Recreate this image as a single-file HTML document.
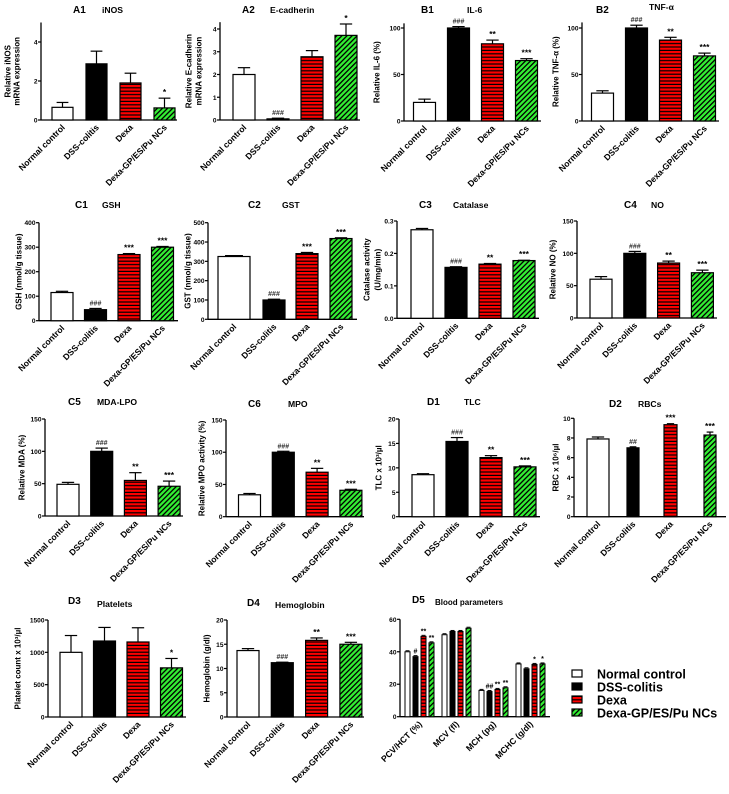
<!DOCTYPE html>
<html><head><meta charset="utf-8">
<style>
html,body{margin:0;padding:0;background:#fff;}
svg{display:block;font-family:"Liberation Sans",Arial,sans-serif;font-weight:bold;}
</style></head>
<body>
<svg id="fig" width="729" height="794" viewBox="0 0 729 794" xmlns="http://www.w3.org/2000/svg">
<defs>
<pattern id="pRed" width="4" height="3.4" patternUnits="userSpaceOnUse"><rect width="4" height="3.4" fill="#f00"/><rect y="2.2" width="4" height="1.2" fill="#000"/></pattern>
<pattern id="pGreen" width="3.6" height="4" patternUnits="userSpaceOnUse" patternTransform="rotate(45)"><rect width="3.6" height="4" fill="#33ee33"/><rect width="1.3" height="4" fill="#000"/></pattern>
</defs>
</svg>
<script>
const categories = ["Normal control","DSS-colitis","Dexa","Dexa-GP/ES/Pu NCs"];
const a1Values=[0.65,2.88,1.9,0.62]; const a1Errors=[0.25,0.65,0.5,0.5]; const a1Marks=["","","","*"]; const a1Ticks=[0,2,4];
const a2Values=[2.0,0.05,2.78,3.72]; const a2Errors=[0.3,0.03,0.27,0.5]; const a2Marks=["","###","","*"]; const a2Ticks=[0,1,2,3,4];
const b1Values=[20,100,83,65]; const b1Errors=[3.5,1.5,4,2]; const b1Marks=["","###","**","***"]; const b1Ticks=[0,50,100];
const b2Values=[30,100,87,70]; const b2Errors=[2.5,3,3,3]; const b2Marks=["","###","**","***"]; const b2Ticks=[0,50,100];
const c1Values=[115,45,270,300]; const c1Errors=[5,5,4,3]; const c1Marks=["","###","***","***"]; const c1Ticks=[0,100,200,300,400];
const c2Values=[325,100,340,418]; const c2Errors=[5,4,6,4]; const c2Marks=["","###","***","***"]; const c2Ticks=[0,100,200,300,400,500];
const c3Values=[0.273,0.157,0.167,0.178]; const c3Errors=[0.004,0.002,0.002,0.001]; const c3Marks=["","###","**","***"]; const c3Ticks=[0,0.1,0.2,0.3];
const c4Values=[60,100,85,70]; const c4Errors=[4,3,3,4]; const c4Marks=["","###","**","***"]; const c4Ticks=[0,50,100,150];
const c5Values=[49,100,55,46]; const c5Errors=[3,5,12,8]; const c5Marks=["","###","**","***"]; const c5Ticks=[0,50,100,150];
const c6Values=[34,100,69,41]; const c6Errors=[2,1.5,6,1.5]; const c6Marks=["","###","**","***"]; const c6Ticks=[0,50,100,150];
const d1Values=[8.6,15.4,12.1,10.2]; const d1Errors=[0.2,0.8,0.4,0.2]; const d1Marks=["","###","**","***"]; const d1Ticks=[0,5,10,15,20];
const d2Values=[7.9,7.0,9.35,8.3]; const d2Errors=[0.2,0.1,0.1,0.3]; const d2Marks=["","##","***","***"]; const d2Ticks=[0,2,4,6,8,10];
const d3Values=[1000,1175,1160,760]; const d3Errors=[260,210,220,145]; const d3Marks=["","","","*"]; const d3Ticks=[0,500,1000,1500];
const d4Values=[13.7,11.2,15.8,15.0]; const d4Errors=[0.4,0.1,0.5,0.4]; const d4Marks=["","###","**","***"]; const d4Ticks=[0,5,10,15,20];
const d5Categories=["PCV/HCT (%)","MCV (fl)","MCH (pg)","MCHC (g/dl)"];
const d5Normal=[40,50.5,16.2,32.5]; const d5DSS=[37,52.5,15.5,29.5]; const d5Dexa=[49.5,52.5,16.8,32.2]; const d5NCs=[45.5,54.5,17.8,32.5];
const d5Marks=[["","#","**","**"],["","","",""],["","##","**","**"],["","","*","*"]];
const d5Ticks=[0,20,40,60];

const svg=document.getElementById('fig');
const NS="http://www.w3.org/2000/svg";
const fills=["#fff","#000","url(#pRed)","url(#pGreen)"];
function mk(tag,attrs,parent){const e=document.createElementNS(NS,tag);for(const k in attrs)e.setAttribute(k,attrs[k]);(parent||svg).appendChild(e);return e;}
function txt(s,attrs,parent){const e=mk('text',attrs,parent);e.textContent=s;return e;}

function panel(cfg){
  const g=mk('g',{});
  
  
  const yScale=v=>cfg.y0-v*(cfg.y0-cfg.refPx)/cfg.refV;
  const xScale=i=>cfg.c0+i*cfg.pitch;
  const topPx=yScale(cfg.topV);
  const ya=mk('line',{x1:cfg.ax,x2:cfg.ax,y1:topPx,y2:cfg.y0,stroke:'#000','stroke-width':1.3},g);
  
  
  const xa=mk('line',{x1:cfg.ax,x2:cfg.end,y1:cfg.y0,y2:cfg.y0,stroke:'#000','stroke-width':1.3},g);
  
  
  cfg.ticks.forEach(t=>{
    const y=yScale(t);
    mk('line',{x1:cfg.ax-3,x2:cfg.ax,y1:y,y2:y,stroke:'#000','stroke-width':1.2},g);
    const tl=txt(cfg.fmt?cfg.fmt(t):String(t),{x:cfg.ax-3.5,y:y+2.5,'font-size':6.6,'text-anchor':'end'},g);
    
    
  });
  const mid=(cfg.y0+topPx)/2;
  cfg.ylab.forEach((s,k)=>{
    const yl=txt(s,{x:0,y:0,'font-size':8,'text-anchor':'middle','dominant-baseline':'central',transform:`translate(${cfg.ylx[k]},${mid}) rotate(-90)`},g);
    
    
  });
  const t1=txt(cfg.id,{x:cfg.tx,y:cfg.ty,'font-size':10},g);
  
  
  const t2=txt(cfg.title,{x:cfg.sx,y:cfg.sy||cfg.ty,'font-size':8.6},g);
  
  
  cfg.values.forEach((v,i)=>{
    const w=cfg.widths?cfg.widths[i]:cfg.w;
    const cx=cfg.centers?cfg.centers[i]:xScale(i);
    const y=yScale(v);
    const b=mk('rect',{x:cx-w/2,y:y,width:w,height:cfg.y0-y,fill:fills[i],stroke:'#000','stroke-width':1.2},g);
    
    
    const ye=yScale(v+cfg.errors[i]);
    mk('line',{x1:cx,x2:cx,y1:y,y2:ye,stroke:'#000','stroke-width':1.2},g);
    mk('line',{x1:cx-w*0.28,x2:cx+w*0.28,y1:ye,y2:ye,stroke:'#000','stroke-width':1.2},g);
    if(cfg.marks[i]){
      const m=cfg.marks[i];
      const a=txt(m,{x:cx,y:ye-3,'font-size':m[0]==='#'?7:8.5,'text-anchor':'middle',fill:m[0]==='#'?'#333':'#000'},g);
      
      
    }
    const cl=txt(categories[i],{x:0,y:0,'font-size':8.6,'text-anchor':'end',transform:`translate(${cx+3},${cfg.y0+8}) rotate(-45)`},g);
    
    
  });
}

panel({name:'panel-a1-inos',id:'A1',title:'iNOS',tx:73,sx:102,ty:13,ax:41,y0:120,refV:4,refPx:42,topV:5,ticks:a1Ticks,c0:62.5,pitch:34,w:21,end:177,ylab:['Relative iNOS','mRNA expression'],ylx:[8,17],values:a1Values,errors:a1Errors,marks:a1Marks});
panel({name:'panel-a2-e-cadherin',id:'A2',title:'E-cadherin',tx:242,sx:270,ty:13,ax:220,y0:120,refV:4,refPx:29,topV:4.3,ticks:a2Ticks,c0:244,pitch:34,w:22,end:360,ylab:['Relative E-cadherin','mRNA expression'],ylx:[189,199],values:a2Values,errors:a2Errors,marks:a2Marks});
panel({name:'panel-b1-il6',id:'B1',title:'IL-6',tx:421,sx:467,ty:13,ax:404,y0:121,refV:100,refPx:28,topV:105,ticks:b1Ticks,c0:424.5,pitch:34,w:22,end:541,ylab:['Relative IL-6 (%)'],ylx:[377],values:b1Values,errors:b1Errors,marks:b1Marks});
panel({name:'panel-b2-tnf',id:'B2',title:'TNF-α',tx:596,sx:649,ty:13,sy:10,ax:582,y0:121,refV:100,refPx:28,topV:106,ticks:b2Ticks,c0:602.5,pitch:34,w:22,end:719,ylab:['Relative TNF-α (%)'],ylx:[556],values:b2Values,errors:b2Errors,marks:b2Marks});
panel({name:'panel-c1-gsh',id:'C1',title:'GSH',tx:75,sx:102,ty:208,ax:39,y0:320.7,refV:400,refPx:222.7,topV:400,ticks:c1Ticks,c0:62,pitch:33.5,w:22,end:178,ylab:['GSH (nmol/g tissue)'],ylx:[19],values:c1Values,errors:c1Errors,marks:c1Marks});
panel({name:'panel-c2-gst',id:'C2',title:'GST',tx:248,sx:282,ty:208,ax:208,y0:319.3,refV:500,refPx:222.7,topV:500,ticks:c2Ticks,centers:[234,274,307,341],widths:[32,22,22,22],c0:0,pitch:0,w:22,end:357,ylab:['GST (nmol/g tissue)'],ylx:[188],values:c2Values,errors:c2Errors,marks:c2Marks});
panel({name:'panel-c3-catalase',id:'C3',title:'Catalase',tx:419,sx:453,ty:208,ax:397,y0:318.3,refV:0.3,refPx:221,topV:0.3,ticks:c3Ticks,fmt:t=>t.toFixed(1),c0:422,pitch:34,w:22,end:539,ylab:['Catalase activity','(U/mg/min)'],ylx:[367,378],values:c3Values,errors:c3Errors,marks:c3Marks});
panel({name:'panel-c4-no',id:'C4',title:'NO',tx:624,sx:651,ty:208,ax:577,y0:318,refV:150,refPx:221,topV:150,ticks:c4Ticks,c0:601,pitch:33.8,w:22,end:717,ylab:['Relative NO (%)'],ylx:[553],values:c4Values,errors:c4Errors,marks:c4Marks});
panel({name:'panel-c5-mda',id:'C5',title:'MDA-LPO',tx:68,sx:97,ty:405,ax:45,y0:516,refV:150,refPx:419,topV:150,ticks:c5Ticks,c0:68,pitch:33.7,w:22,end:183,ylab:['Relative MDA (%)'],ylx:[22],values:c5Values,errors:c5Errors,marks:c5Marks});
panel({name:'panel-c6-mpo',id:'C6',title:'MPO',tx:248,sx:288,ty:407,ax:226,y0:516.7,refV:150,refPx:420,topV:150,ticks:c6Ticks,c0:249.5,pitch:33.8,w:22,end:364,ylab:['Relative MPO activity (%)'],ylx:[202],values:c6Values,errors:c6Errors,marks:c6Marks});
panel({name:'panel-d1-tlc',id:'D1',title:'TLC',tx:427,sx:464,ty:405,ax:399,y0:516.7,refV:20,refPx:419,topV:20,ticks:d1Ticks,c0:423,pitch:34,w:22,end:540,ylab:['TLC x 10³/µl'],ylx:[379],values:d1Values,errors:d1Errors,marks:d1Marks});
panel({name:'panel-d2-rbc',id:'D2',title:'RBCs',tx:609,sx:638,ty:407,ax:574,y0:516.7,refV:10,refPx:418.3,topV:10,ticks:d2Ticks,centers:[598,633,670.5,710],widths:[22,12,13,12],c0:0,pitch:0,w:12,end:726,ylab:['RBC x 10⁶/µl'],ylx:[556],values:d2Values,errors:d2Errors,marks:d2Marks});
panel({name:'panel-d3-platelets',id:'D3',title:'Platelets',tx:68,sx:97,ty:604,sy:607,ax:48,y0:717,refV:1500,refPx:620,topV:1500,ticks:d3Ticks,c0:71,pitch:33.5,w:22,end:186,ylab:['Platelet count x 10³/µl'],ylx:[18],values:d3Values,errors:d3Errors,marks:d3Marks});
panel({name:'panel-d4-hemoglobin',id:'D4',title:'Hemoglobin',tx:247,sx:275,ty:606,sy:608,ax:227,y0:717,refV:20,refPx:620,topV:20,ticks:d4Ticks,c0:248,pitch:34.3,w:22,end:364,ylab:['Hemoglobin (g/dl)'],ylx:[207],values:d4Values,errors:d4Errors,marks:d4Marks});

(function(){
  const g=mk('g',{});
  
  
  const ax=400,y0=716.7,refPx=619.3,end=550;
  const yScale=v=>y0-v*(y0-refPx)/60;
  const groupX=i=>407.5+i*37;
  const series=[d5Normal,d5DSS,d5Dexa,d5NCs];
  mk('line',{x1:ax,x2:ax,y1:yScale(60),y2:y0,stroke:'#000','stroke-width':1.3},g);
  mk('line',{x1:ax,x2:end,y1:y0,y2:y0,stroke:'#000','stroke-width':1.3},g);
  d5Ticks.forEach(t=>{
    const y=yScale(t);
    mk('line',{x1:ax-3,x2:ax,y1:y,y2:y,stroke:'#000','stroke-width':1.2},g);
    const tl=txt(String(t),{x:ax-3.5,y:y+2.5,'font-size':6.6,'text-anchor':'end'},g);
    
    
  });
  const t1=txt('D5',{x:412,y:603,'font-size':10},g);
  
  
  const t2=txt('Blood parameters',{x:435,y:605,'font-size':8},g);
  
  
  d5Categories.forEach((c,i)=>{
    series.forEach((s,k)=>{
      const x=groupX(i)+k*8;
      const y=yScale(s[i]);
      const b=mk('rect',{x:x-2.5,y:y,width:5,height:y0-y,fill:fills[k],stroke:'#000','stroke-width':1},g);
      
      
      mk('line',{x1:x-2,x2:x+2,y1:y-1,y2:y-1,stroke:'#000','stroke-width':1},g);
      const m=d5Marks[i][k];
      if(m){
        const a=txt(m,{x:x,y:y-3,'font-size':7,'text-anchor':'middle'},g);
        
        
      }
    });
    const cl=txt(c,{x:0,y:0,'font-size':8.6,'text-anchor':'end',transform:`translate(${groupX(i)+15},${y0+8}) rotate(-45)`},g);
    
    
  });
})();

(function(){
  const g=mk('g',{});
  
  
  const ys=[674,687,700,713];
  categories.forEach((c,i)=>{
    const r=mk('rect',{x:572,y:ys[i]-4,width:10,height:7,fill:fills[i],stroke:'#000','stroke-width':1.2},g);
    
    
    const t=txt(c,{x:597,y:ys[i]+4.5,'font-size':12.5},g);
    
    
  });
})();
</script>
</body></html>
